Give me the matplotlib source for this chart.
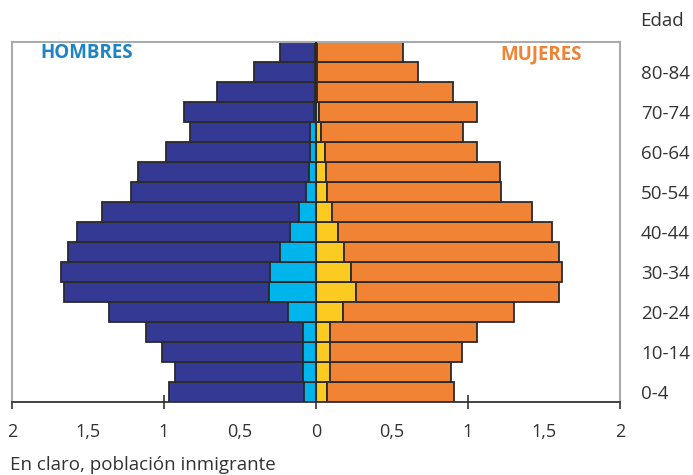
import matplotlib
matplotlib.use("Agg")
import matplotlib.pyplot as plt
import numpy as np

plt.rcParams['font.family'] = ['Open Sans', 'DejaVu Sans']

ages = ["0-4", "5-9", "10-14", "15-19", "20-24", "25-29", "30-34", "35-39",
        "40-44", "45-49", "50-54", "55-59", "60-64", "65-69", "70-74",
        "75-79", "80-84", "85+"]
men_total = [0.97, 0.93, 1.01, 1.12, 1.36, 1.66, 1.68, 1.63, 1.57, 1.41,
             1.22, 1.17, 0.99, 0.83, 0.87, 0.65, 0.41, 0.24]
men_immig = [0.077, 0.088, 0.088, 0.088, 0.184, 0.31, 0.30, 0.235, 0.174, 0.11,
             0.068, 0.046, 0.037, 0.037, 0.016, 0.005, 0.005, 0.005]
women_total = [0.91, 0.89, 0.96, 1.06, 1.30, 1.60, 1.62, 1.60, 1.55, 1.42,
               1.22, 1.21, 1.06, 0.965, 1.06, 0.90, 0.67, 0.57]
women_immig = [0.072, 0.089, 0.089, 0.094, 0.178, 0.265, 0.233, 0.186, 0.147, 0.105,
               0.075, 0.066, 0.057, 0.03, 0.02, 0.005, 0.005, 0.005]
xtick_vals = [-2, -1.5, -1, -0.5, 0, 0.5, 1, 1.5, 2]
xtick_labels = ["2", "1,5", "1", "0,5", "0", "0,5", "1", "1,5", "2"]
ylabel_rows = ["0-4", "10-14", "20-24", "30-34", "40-44", "50-54", "60-64", "70-74", "80-84"]

dark_blue = "#343a94"
light_blue = "#00b4ec"
yellow = "#fccb22"
orange = "#f08334"
edge = "#2a2a2a"

fig = plt.figure(figsize=(6.93, 4.75), dpi=100)
ax = fig.add_axes([12/693, 1 - 402/475, (620 - 12)/693, (402 - 42)/475])

y = np.arange(len(ages))
mt = np.array(men_total); mi = np.array(men_immig)
wt = np.array(women_total); wi = np.array(women_immig)

kw = dict(height=1.0, edgecolor=edge, linewidth=1.3, zorder=2)
ax.barh(y, -(mt - mi), left=-mi, color=dark_blue, **kw)
ax.barh(y, -mi, left=0, color=light_blue, **kw)
ax.barh(y, wi, left=0, color=yellow, **kw)
ax.barh(y, wt - wi, left=wi, color=orange, **kw)
ax.axvline(0, color=edge, linewidth=1.5, zorder=3)

ax.set_xlim(-2, 2)
ax.set_ylim(-0.5, len(ages) - 0.5)

for s in ['left', 'top', 'right']:
    ax.spines[s].set_color('#a7abae')
    ax.spines[s].set_linewidth(1.5)
ax.spines['bottom'].set_color('#333333')
ax.spines['bottom'].set_linewidth(1.3)

ax.set_xticks([-2, -1, 0, 1, 2])
ax.set_xticklabels([])
ax.tick_params(axis='x', direction='inout', length=10, width=1.2, color='#333333')
for v, lab in zip(xtick_vals, xtick_labels):
    ax.text(v, -0.5, lab, transform=ax.transData, ha='center', va='top',
            fontsize=13, color='#333333')
# offset labels below axis
for t in ax.texts:
    t.set_position((t.get_position()[0], -1.55))

idx = [ages.index(a) for a in ylabel_rows]
ax.set_yticks(idx)
ax.set_yticklabels(ylabel_rows, fontsize=13.5, color='#333333')
ax.yaxis.tick_right()
ax.tick_params(axis='y', length=0, pad=15)

fig.text(640/693, 1 - 21/475, "Edad", fontsize=13.5, color='#333333', va='center', ha='left')
fig.text(40/693, 1 - 53/475, "HOMBRES", fontsize=13.5, fontweight='bold', color='#1d84c6',
         va='center', ha='left')
fig.text(500/693, 1 - 54/475, "MUJERES", fontsize=13.5, fontweight='bold', color='#f08334',
         va='center', ha='left')
fig.text(10/693, 1 - 465/475, "En claro, población inmigrante", fontsize=13.5,
         color='#333333', va='center', ha='left')

fig.savefig("out.png", dpi=100)
